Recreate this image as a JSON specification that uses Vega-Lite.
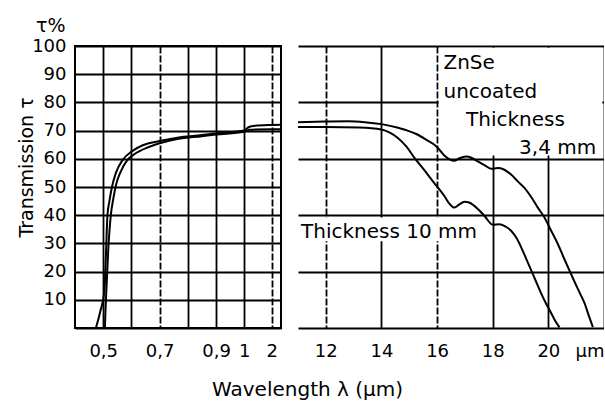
{
  "$schema": "https://vega.github.io/schema/vega-lite/v6.json",
  "background": "white",
  "padding": {"left": 15, "top": 17, "right": 0, "bottom": 0},
  "spacing": 17,
  "bounds": "flush",
  "title": {
    "text": "τ%",
    "anchor": "start",
    "frame": "bounds",
    "dx": 20,
    "offset": -15,
    "baseline": "alphabetic",
    "font": "DejaVu Sans",
    "fontSize": 19,
    "fontWeight": "normal",
    "color": "black"
  },
  "datasets": {
    "curves": [
      {"panel": "left", "series": "3.4 mm", "wl": 0.474, "t": 0},
      {"panel": "left", "series": "3.4 mm", "wl": 0.49, "t": 6},
      {"panel": "left", "series": "3.4 mm", "wl": 0.504, "t": 13},
      {"panel": "left", "series": "3.4 mm", "wl": 0.51, "t": 27},
      {"panel": "left", "series": "3.4 mm", "wl": 0.515, "t": 40},
      {"panel": "left", "series": "3.4 mm", "wl": 0.522, "t": 45},
      {"panel": "left", "series": "3.4 mm", "wl": 0.531, "t": 50},
      {"panel": "left", "series": "3.4 mm", "wl": 0.545, "t": 55},
      {"panel": "left", "series": "3.4 mm", "wl": 0.569, "t": 59.6},
      {"panel": "left", "series": "3.4 mm", "wl": 0.604, "t": 62.8},
      {"panel": "left", "series": "3.4 mm", "wl": 0.64, "t": 64.8},
      {"panel": "left", "series": "3.4 mm", "wl": 0.7, "t": 66.3},
      {"panel": "left", "series": "3.4 mm", "wl": 0.763, "t": 67.5},
      {"panel": "left", "series": "3.4 mm", "wl": 0.85, "t": 68.4},
      {"panel": "left", "series": "3.4 mm", "wl": 0.9, "t": 69},
      {"panel": "left", "series": "3.4 mm", "wl": 1.0, "t": 70},
      {"panel": "left", "series": "3.4 mm", "wl": 1.15, "t": 71.2},
      {"panel": "left", "series": "3.4 mm", "wl": 1.4, "t": 71.7},
      {"panel": "left", "series": "3.4 mm", "wl": 2.0, "t": 72},
      {"panel": "left", "series": "3.4 mm", "wl": 2.34, "t": 72.1},
      {"panel": "left", "series": "10 mm", "wl": 0.506, "t": 0},
      {"panel": "left", "series": "10 mm", "wl": 0.508, "t": 6},
      {"panel": "left", "series": "10 mm", "wl": 0.511, "t": 13},
      {"panel": "left", "series": "10 mm", "wl": 0.518, "t": 28},
      {"panel": "left", "series": "10 mm", "wl": 0.527, "t": 40},
      {"panel": "left", "series": "10 mm", "wl": 0.536, "t": 46},
      {"panel": "left", "series": "10 mm", "wl": 0.546, "t": 51},
      {"panel": "left", "series": "10 mm", "wl": 0.56, "t": 55},
      {"panel": "left", "series": "10 mm", "wl": 0.586, "t": 59.6},
      {"panel": "left", "series": "10 mm", "wl": 0.61, "t": 61.6},
      {"panel": "left", "series": "10 mm", "wl": 0.657, "t": 64},
      {"panel": "left", "series": "10 mm", "wl": 0.7, "t": 65.5},
      {"panel": "left", "series": "10 mm", "wl": 0.763, "t": 67},
      {"panel": "left", "series": "10 mm", "wl": 0.85, "t": 68},
      {"panel": "left", "series": "10 mm", "wl": 0.9, "t": 68.6},
      {"panel": "left", "series": "10 mm", "wl": 1.0, "t": 69.6},
      {"panel": "left", "series": "10 mm", "wl": 1.2, "t": 70.3},
      {"panel": "left", "series": "10 mm", "wl": 2.0, "t": 70.5},
      {"panel": "left", "series": "10 mm", "wl": 2.34, "t": 70.5},
      {"panel": "right", "series": "3.4 mm", "wl": 11, "t": 73},
      {"panel": "right", "series": "3.4 mm", "wl": 12, "t": 73.2},
      {"panel": "right", "series": "3.4 mm", "wl": 12.8, "t": 73.3},
      {"panel": "right", "series": "3.4 mm", "wl": 13.4, "t": 73},
      {"panel": "right", "series": "3.4 mm", "wl": 14, "t": 72.3},
      {"panel": "right", "series": "3.4 mm", "wl": 14.6, "t": 71},
      {"panel": "right", "series": "3.4 mm", "wl": 15.27, "t": 68.7},
      {"panel": "right", "series": "3.4 mm", "wl": 15.6, "t": 66.8},
      {"panel": "right", "series": "3.4 mm", "wl": 16, "t": 64.2},
      {"panel": "right", "series": "3.4 mm", "wl": 16.26, "t": 61.2},
      {"panel": "right", "series": "3.4 mm", "wl": 16.45, "t": 59.8},
      {"panel": "right", "series": "3.4 mm", "wl": 16.62, "t": 59.3},
      {"panel": "right", "series": "3.4 mm", "wl": 16.8, "t": 60.2},
      {"panel": "right", "series": "3.4 mm", "wl": 17.04, "t": 60.8},
      {"panel": "right", "series": "3.4 mm", "wl": 17.25, "t": 60.3},
      {"panel": "right", "series": "3.4 mm", "wl": 17.46, "t": 59.1},
      {"panel": "right", "series": "3.4 mm", "wl": 17.7, "t": 57.8},
      {"panel": "right", "series": "3.4 mm", "wl": 17.94, "t": 56.5},
      {"panel": "right", "series": "3.4 mm", "wl": 18.18, "t": 56.7},
      {"panel": "right", "series": "3.4 mm", "wl": 18.4, "t": 56.2},
      {"panel": "right", "series": "3.4 mm", "wl": 18.66, "t": 54.4},
      {"panel": "right", "series": "3.4 mm", "wl": 18.9, "t": 52},
      {"panel": "right", "series": "3.4 mm", "wl": 19.14, "t": 49.7},
      {"panel": "right", "series": "3.4 mm", "wl": 19.4, "t": 46.2},
      {"panel": "right", "series": "3.4 mm", "wl": 19.62, "t": 42.7},
      {"panel": "right", "series": "3.4 mm", "wl": 19.84, "t": 39.5},
      {"panel": "right", "series": "3.4 mm", "wl": 20.1, "t": 34.5},
      {"panel": "right", "series": "3.4 mm", "wl": 20.34, "t": 29.8},
      {"panel": "right", "series": "3.4 mm", "wl": 20.55, "t": 25},
      {"panel": "right", "series": "3.4 mm", "wl": 20.72, "t": 21.2},
      {"panel": "right", "series": "3.4 mm", "wl": 20.94, "t": 16.4},
      {"panel": "right", "series": "3.4 mm", "wl": 21.15, "t": 12},
      {"panel": "right", "series": "3.4 mm", "wl": 21.3, "t": 8.8},
      {"panel": "right", "series": "3.4 mm", "wl": 21.45, "t": 4.5},
      {"panel": "right", "series": "3.4 mm", "wl": 21.6, "t": 0.3},
      {"panel": "right", "series": "10 mm", "wl": 11, "t": 71.3},
      {"panel": "right", "series": "10 mm", "wl": 12, "t": 71.3},
      {"panel": "right", "series": "10 mm", "wl": 13.2, "t": 71.1},
      {"panel": "right", "series": "10 mm", "wl": 14, "t": 70.4},
      {"panel": "right", "series": "10 mm", "wl": 14.3, "t": 69.3},
      {"panel": "right", "series": "10 mm", "wl": 14.58, "t": 67.5},
      {"panel": "right", "series": "10 mm", "wl": 14.9, "t": 64.3},
      {"panel": "right", "series": "10 mm", "wl": 15.18, "t": 60.4},
      {"panel": "right", "series": "10 mm", "wl": 15.5, "t": 56.5},
      {"panel": "right", "series": "10 mm", "wl": 15.85, "t": 52},
      {"panel": "right", "series": "10 mm", "wl": 16.26, "t": 46.8},
      {"panel": "right", "series": "10 mm", "wl": 16.45, "t": 44},
      {"panel": "right", "series": "10 mm", "wl": 16.62, "t": 42.7},
      {"panel": "right", "series": "10 mm", "wl": 16.8, "t": 43.8},
      {"panel": "right", "series": "10 mm", "wl": 16.98, "t": 44.8},
      {"panel": "right", "series": "10 mm", "wl": 17.15, "t": 44.5},
      {"panel": "right", "series": "10 mm", "wl": 17.34, "t": 43.3},
      {"panel": "right", "series": "10 mm", "wl": 17.7, "t": 39.8},
      {"panel": "right", "series": "10 mm", "wl": 18, "t": 36.6},
      {"panel": "right", "series": "10 mm", "wl": 18.24, "t": 36.8},
      {"panel": "right", "series": "10 mm", "wl": 18.45, "t": 36},
      {"panel": "right", "series": "10 mm", "wl": 18.66, "t": 34.5},
      {"panel": "right", "series": "10 mm", "wl": 18.85, "t": 32},
      {"panel": "right", "series": "10 mm", "wl": 19.02, "t": 28.7},
      {"panel": "right", "series": "10 mm", "wl": 19.2, "t": 24.6},
      {"panel": "right", "series": "10 mm", "wl": 19.38, "t": 20.5},
      {"panel": "right", "series": "10 mm", "wl": 19.56, "t": 16.4},
      {"panel": "right", "series": "10 mm", "wl": 19.74, "t": 12.3},
      {"panel": "right", "series": "10 mm", "wl": 19.92, "t": 8.6},
      {"panel": "right", "series": "10 mm", "wl": 20.1, "t": 5.3},
      {"panel": "right", "series": "10 mm", "wl": 20.25, "t": 2.5},
      {"panel": "right", "series": "10 mm", "wl": 20.4, "t": 0.2}
    ],
    "boxes": [
      {"wl": 16.06, "wl2": 21.94, "t": 61.2, "t2": 99.4},
      {"wl": 11.02, "wl2": 17.6, "t": 30.8, "t2": 39.2}
    ],
    "notes": [
      {"wl": 16.23, "t": 91.8, "label": "ZnSe", "side": "left"},
      {"wl": 16.23, "t": 81.7, "label": "uncoated", "side": "left"},
      {"wl": 17.04, "t": 71.6, "label": "Thickness", "side": "left"},
      {"wl": 21.72, "t": 61.8, "label": "3,4 mm", "side": "right"},
      {"wl": 11.11, "t": 32.0, "label": "Thickness 10 mm", "side": "left"}
    ]
  },
  "config": {
    "font": "DejaVu Sans",
    "view": {"stroke": "black", "strokeWidth": 2},
    "axis": {
      "labelFont": "DejaVu Sans",
      "labelFontSize": 18,
      "labelColor": "black",
      "titleFont": "DejaVu Sans",
      "titleFontSize": 20,
      "titleFontWeight": "normal",
      "titleColor": "black",
      "grid": true,
      "gridColor": "black",
      "gridOpacity": 1,
      "gridWidth": 1.8,
      "ticks": false,
      "tickSize": 0,
      "domain": false,
      "labelOverlap": false,
      "labelBound": false,
      "labelFlush": false
    }
  },
  "hconcat": [
    {
      "width": 206,
      "height": 282,
      "data": {"name": "curves"},
      "transform": [{"filter": "datum.panel == 'left'"}],
      "mark": {"type": "line", "interpolate": "monotone", "color": "black", "strokeWidth": 2, "clip": true},
      "encoding": {
        "x": {
          "field": "wl",
          "type": "quantitative",
          "scale": {"type": "linear", "domain": [0.4, 1, 2, 2.34], "range": [0, 169.3, 196.7, 206], "nice": false, "zero": false},
          "axis": {
            "values": [0.5, 0.6, 0.7, 0.8, 0.9, 1, 2],
            "labelExpr": "datum.value == 0.6 || datum.value == 0.8 ? '' : (datum.value >= 1 ? format(datum.value, 'd') : replace(format(datum.value, '.1f'), '.', ','))",
            "labelBaseline": "alphabetic",
            "labelPadding": 28,
            "gridDash": {"condition": {"test": "datum.value == 0.7 || datum.value == 2", "value": [7, 2]}, "value": []},
            "title": "Wavelength λ (µm)",
            "titleX": 232,
            "titleY": 67,
            "titleAlign": "center",
            "titleBaseline": "alphabetic"
          }
        },
        "y": {
          "field": "t",
          "type": "quantitative",
          "scale": {"domain": [0, 100], "nice": false},
          "axis": {
            "values": [0, 10, 20, 30, 40, 50, 60, 70, 80, 90, 100],
            "labelExpr": "datum.value == 0 ? '' : datum.label",
            "labelPadding": 9,
            "title": "Transmission τ",
            "titleX": -49,
            "titleY": 121,
            "titleAngle": -90,
            "titleAlign": "center",
            "titleBaseline": "middle",
            "titleFontSize": 19
          }
        },
        "detail": {"field": "series", "type": "nominal"}
      }
    },
    {
      "width": 306,
      "height": 282,
      "view": {"stroke": null},
      "layer": [
        {
          "data": {"name": "boxes"},
          "mark": {"type": "rect", "color": "white", "opacity": 1},
          "encoding": {
            "x": {
              "field": "wl",
              "type": "quantitative",
              "scale": {"domain": [11, 22], "nice": false, "zero": false},
              "axis": {
                "values": [12, 14, 16, 18, 20, 22],
                "labelExpr": "datum.value == 22 ? '' : datum.label",
                "labelBaseline": "alphabetic",
                "labelPadding": 28,
                "gridDash": {"condition": {"test": "datum.value == 12 || datum.value == 16", "value": [7, 2]}, "value": []},
                "title": "µm",
                "titleFontSize": 18,
                "titleX": 306,
                "titleY": 28,
                "titleAlign": "right",
                "titleBaseline": "alphabetic"
              }
            },
            "x2": {"field": "wl2"},
            "y": {
              "field": "t",
              "type": "quantitative",
              "scale": {"domain": [0, 100], "nice": false},
              "axis": {
                "values": [0, 10, 20, 30, 40, 50, 60, 70, 80, 90, 100],
                "labels": false,
                "title": null
              }
            },
            "y2": {"field": "t2"}
          }
        },
        {
          "data": {"name": "curves"},
          "transform": [{"filter": "datum.panel == 'right'"}],
          "mark": {"type": "line", "interpolate": "monotone", "color": "black", "strokeWidth": 2},
          "encoding": {
            "x": {"field": "wl", "type": "quantitative"},
            "y": {"field": "t", "type": "quantitative"},
            "detail": {"field": "series", "type": "nominal"}
          }
        },
        {
          "data": {"name": "notes"},
          "transform": [{"filter": "datum.side == 'left'"}],
          "mark": {"type": "text", "font": "DejaVu Sans", "fontSize": 20, "baseline": "alphabetic", "align": "left", "color": "black"},
          "encoding": {
            "x": {"field": "wl", "type": "quantitative"},
            "y": {"field": "t", "type": "quantitative"},
            "text": {"field": "label"}
          }
        },
        {
          "data": {"name": "notes"},
          "transform": [{"filter": "datum.side == 'right'"}],
          "mark": {"type": "text", "font": "DejaVu Sans", "fontSize": 20, "baseline": "alphabetic", "align": "right", "color": "black"},
          "encoding": {
            "x": {"field": "wl", "type": "quantitative"},
            "y": {"field": "t", "type": "quantitative"},
            "text": {"field": "label"}
          }
        }
      ]
    }
  ]
}
